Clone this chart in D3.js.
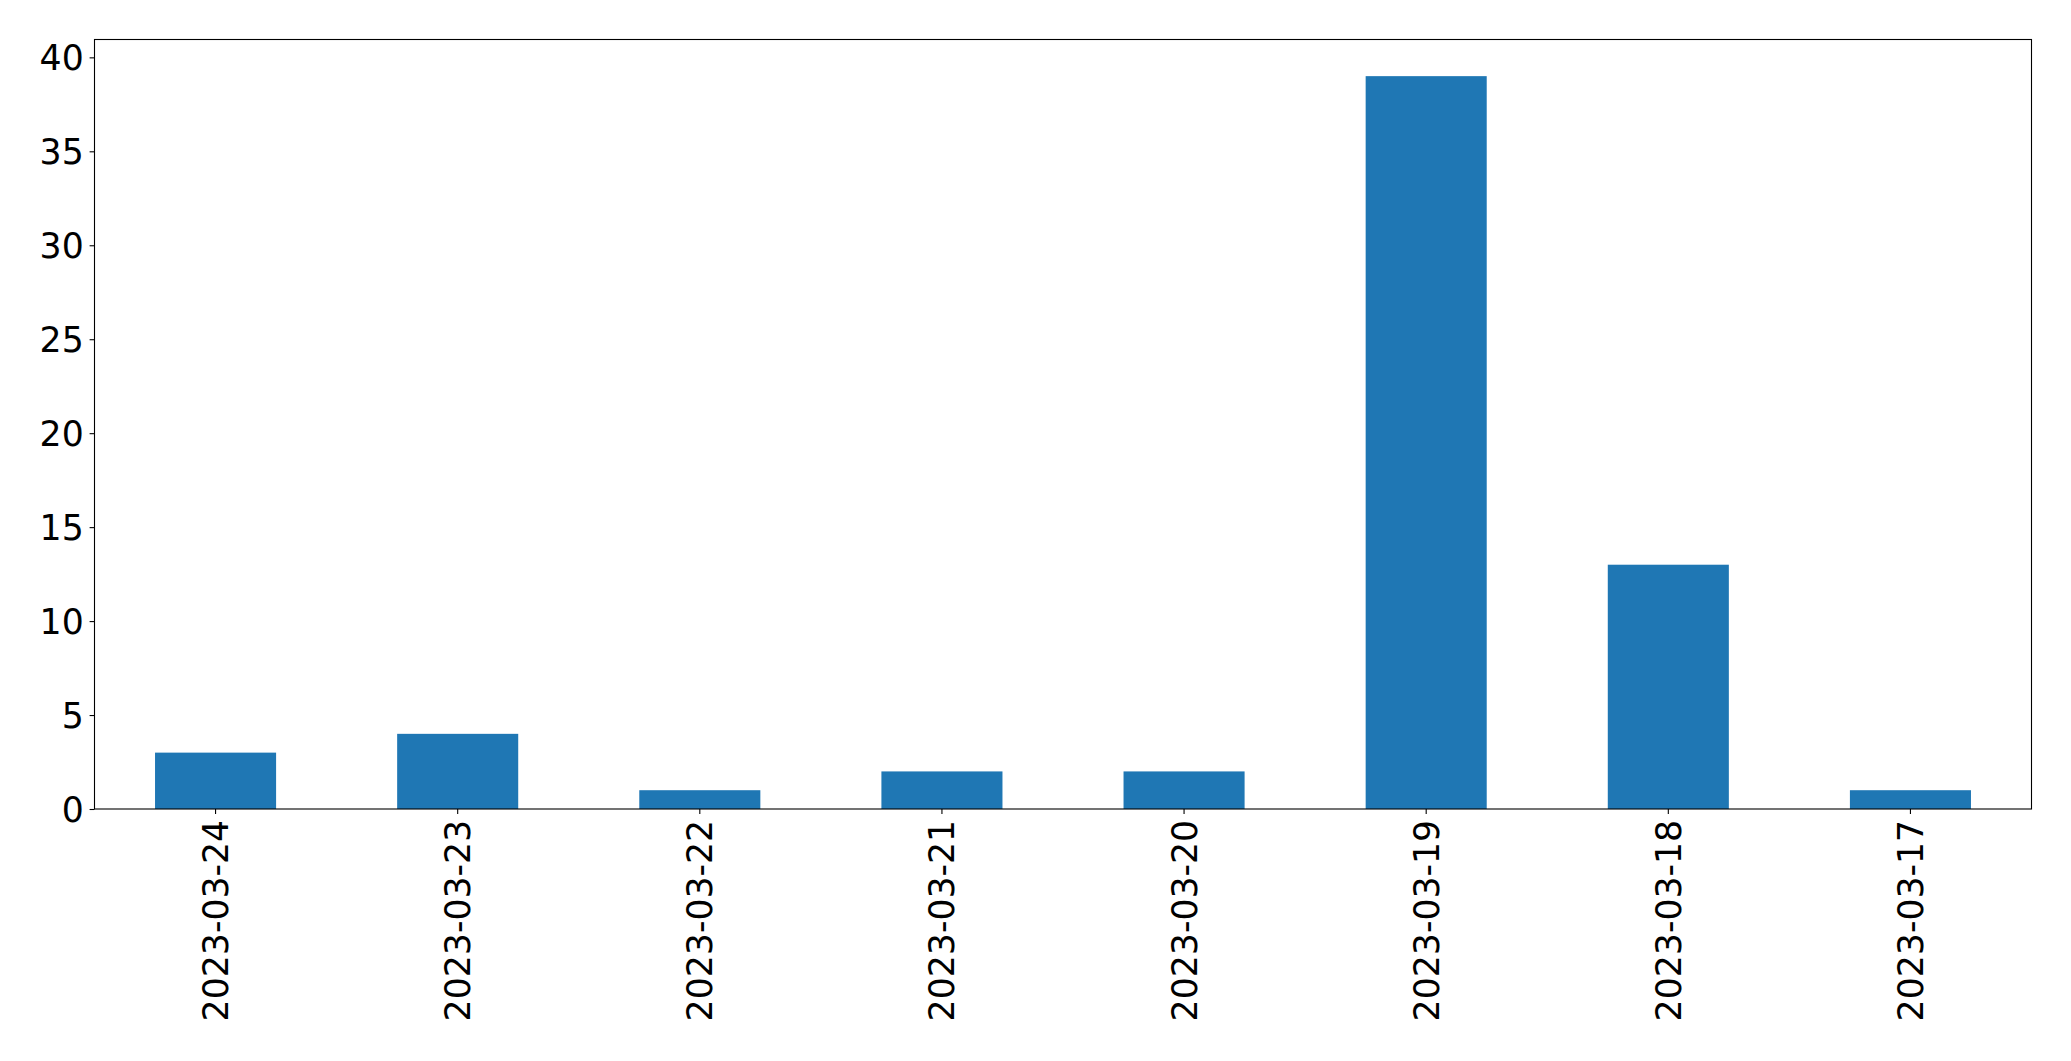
<!DOCTYPE html>
<html>
<head>
<meta charset="utf-8">
<script src="https://cdn.jsdelivr.net/npm/d3@7"></script>
<style>
    body { margin: 0; background: #fff; }
    svg { display: block; }
    text { font-family: "DejaVu Sans", sans-serif; fill: #000; }
</style>
</head>
<body>
<div id="chart"></div>
<script>
// categories (dates, as ordered in the picture) and counts
const dates = ["2023-03-24", "2023-03-23", "2023-03-22", "2023-03-21", "2023-03-20", "2023-03-19", "2023-03-18", "2023-03-17"];
const counts = [3, 4, 1, 2, 2, 39, 13, 1];
const yTicks = [0, 5, 10, 15, 20, 25, 30, 35, 40];

drawBarChart(d3.select("#chart"));

function drawBarChart(container) {
    const totalWidth = 2071;
    const totalHeight = 1061;
    const margin = { top: 39.5, right: 39.5, bottom: 252, left: 94.5 };
    const width = totalWidth - margin.left - margin.right;
    const height = totalHeight - margin.top - margin.bottom;
    const fontSize = 34.7;
    const tickLen = 4.9;

    const svg = container.append("svg")
        .attr("width", totalWidth)
        .attr("height", totalHeight)
        .append("g")
        .attr("transform", `translate(${margin.left},${margin.top})`);

    const x = d3.scaleBand()
        .domain(dates)
        .range([0, width])
        .paddingInner(0.5)
        .paddingOuter(0.25);

    // matplotlib keeps 5% headroom above the tallest bar
    const y = d3.scaleLinear()
        .domain([0, d3.max(counts) * 1.05])
        .range([height, 0]);

    // bars
    svg.selectAll("rect.bar")
        .data(dates)
        .enter().append("rect")
        .attr("class", "bar")
        .attr("x", d => x(d))
        .attr("width", x.bandwidth())
        .attr("y", (d, i) => y(counts[i]))
        .attr("height", (d, i) => y(0) - y(counts[i]))
        .attr("fill", "#1f77b4");

    // y axis
    const yAxis = d3.axisLeft(y)
        .tickValues(yTicks)
        .tickSize(tickLen)
        .tickPadding(tickLen + 1);

    const gy = svg.append("g").call(yAxis);
    gy.select(".domain").remove();
    gy.selectAll(".tick line").attr("stroke", "#000").attr("stroke-width", 1.1);
    gy.selectAll(".tick text")
        .attr("font-size", fontSize)
        .attr("font-family", "DejaVu Sans")
        .attr("fill", "#000")
        .attr("dy", "0.36em");

    // x axis with rotated labels
    const xAxis = d3.axisBottom(x)
        .tickSize(tickLen)
        .tickPadding(0);

    const gx = svg.append("g")
        .attr("transform", `translate(0,${height})`)
        .call(xAxis);
    gx.select(".domain").remove();
    gx.selectAll(".tick line").attr("stroke", "#000").attr("stroke-width", 1.1);
    gx.selectAll(".tick text")
        .attr("font-size", fontSize)
        .attr("font-family", "DejaVu Sans")
        .attr("fill", "#000")
        .attr("text-anchor", "end")
        .attr("x", 0)
        .attr("y", 0)
        .attr("dy", "0.36em")
        .attr("transform", `translate(0,${tickLen * 2 + 1}) rotate(-90)`);

    // frame round the plot area
    svg.append("rect")
        .attr("x", 0)
        .attr("y", 0)
        .attr("width", width)
        .attr("height", height)
        .attr("fill", "none")
        .attr("stroke", "#000")
        .attr("stroke-width", 1.1);
}
</script>
</body>
</html>
